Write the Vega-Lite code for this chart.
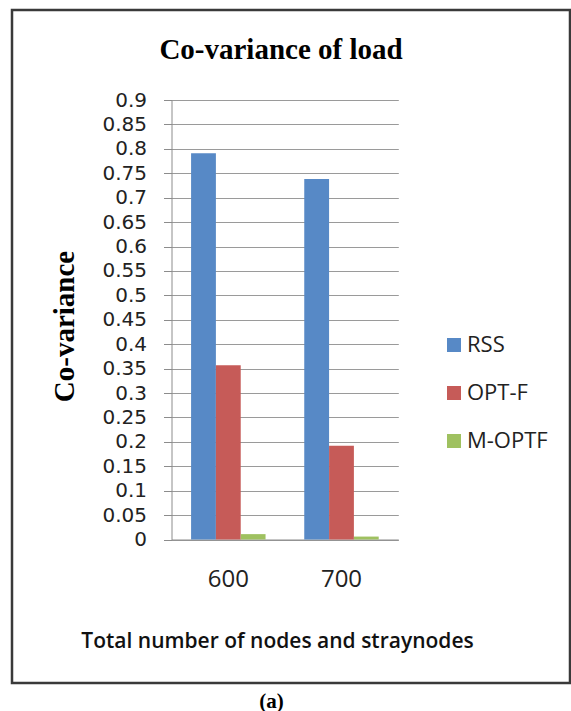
{
  "$schema": "https://vega.github.io/schema/vega-lite/v6.json",
  "width": 558,
  "height": 673,
  "autosize": {"type": "none"},
  "padding": {"left": 12, "top": 10, "right": 1, "bottom": 28},
  "background": "white",
  "config": {
    "view": {"stroke": "#3a3a3a", "strokeWidth": 2.5}
  },
  "data": {
    "values": [
      {"nodes": "600", "series": "RSS", "covariance": 0.791},
      {"nodes": "600", "series": "OPT-F", "covariance": 0.357},
      {"nodes": "600", "series": "M-OPTF", "covariance": 0.011},
      {"nodes": "700", "series": "RSS", "covariance": 0.738},
      {"nodes": "700", "series": "OPT-F", "covariance": 0.192},
      {"nodes": "700", "series": "M-OPTF", "covariance": 0.006}
    ]
  },
  "resolve": {"axis": {"x": "independent"}},
  "layer": [
    {
      "mark": {"type": "bar"},
      "encoding": {
        "x": {
          "field": "nodes",
          "type": "nominal",
          "scale": {"range": [159.5, 386.3], "paddingInner": 0.342, "paddingOuter": 0.173},
          "axis": {
            "orient": "bottom",
            "offset": -143.5,
            "domainColor": "#8c8c8c",
            "domainWidth": 1,
            "ticks": false,
            "labelAngle": 0,
            "labelFont": "Open Sans",
            "labelFontSize": 24,
            "labelColor": "#222222",
            "labelPadding": 28,
            "title": "Total number of nodes and straynodes",
            "titleFont": "Open Sans",
            "titleFontSize": 21,
            "titleFontWeight": 600,
            "titleColor": "#111111",
            "titleX": 265,
            "titleY": 107.5,
            "titleAlign": "center",
            "titleBaseline": "alphabetic"
          }
        },
        "xOffset": {
          "field": "series",
          "type": "nominal",
          "sort": ["RSS", "OPT-F", "M-OPTF"],
          "scale": {"paddingInner": 0, "paddingOuter": 0}
        },
        "y": {
          "field": "covariance",
          "type": "quantitative",
          "scale": {"domain": [0, 0.9], "range": [529.5, 90], "nice": false},
          "axis": {
            "orient": "left",
            "offset": -159.5,
            "values": [0, 0.05, 0.1, 0.15, 0.2, 0.25, 0.3, 0.35, 0.4, 0.45, 0.5, 0.55, 0.6, 0.65, 0.7, 0.75, 0.8, 0.85, 0.9],
            "format": ".2~f",
            "labelOverlap": false,
            "labelFlush": false,
            "grid": true,
            "gridColor": "#9a9a9a",
            "gridWidth": 1,
            "domainColor": "#8c8c8c",
            "tickColor": "#8c8c8c",
            "tickSize": 8,
            "labelFont": "DejaVu Sans",
            "labelFontSize": 20,
            "labelColor": "#222222",
            "labelPadding": 17,
            "title": "Co-variance",
            "titleFont": "Liberation Serif",
            "titleFontSize": 29,
            "titleFontWeight": "bold",
            "titleColor": "#000000",
            "titleAngle": -90,
            "titleX": -107.5,
            "titleY": 316,
            "titleAlign": "center",
            "titleBaseline": "middle"
          }
        },
        "color": {
          "field": "series",
          "type": "nominal",
          "sort": ["RSS", "OPT-F", "M-OPTF"],
          "scale": {"domain": ["RSS", "OPT-F", "M-OPTF"], "range": ["#5789c6", "#c65b58", "#9fc160"]},
          "legend": {
            "orient": "none",
            "legendX": 431,
            "legendY": 324,
            "title": null,
            "symbolType": "square",
            "symbolSize": 196,
            "symbolStrokeWidth": 0,
            "labelFont": "Open Sans",
            "labelFontSize": 22,
            "labelColor": "#222222",
            "labelOffset": 2,
            "rowPadding": 26
          }
        }
      }
    },
    {
      "mark": {"type": "bar", "opacity": 0},
      "encoding": {
        "x": {
          "field": "nodes",
          "type": "nominal",
          "axis": {
            "orient": "bottom",
            "offset": 0,
            "domain": false,
            "ticks": false,
            "labels": false,
            "grid": false,
            "title": "(a)",
            "titleFont": "Liberation Serif",
            "titleFontSize": 21,
            "titleFontWeight": "bold",
            "titleColor": "#000000",
            "titleX": 259,
            "titleY": 24,
            "titleAlign": "center",
            "titleBaseline": "alphabetic"
          }
        }
      }
    },
    {
      "mark": {"type": "bar", "opacity": 0},
      "encoding": {
        "x": {
          "field": "nodes",
          "type": "nominal",
          "axis": {
            "orient": "top",
            "offset": 0,
            "domain": false,
            "ticks": false,
            "labels": false,
            "grid": false,
            "title": "Co-variance of load",
            "titleFont": "Liberation Serif",
            "titleFontSize": 29,
            "titleFontWeight": "bold",
            "titleColor": "#000000",
            "titleX": 268.5,
            "titleY": 48,
            "titleAlign": "center",
            "titleBaseline": "alphabetic"
          }
        }
      }
    }
  ]
}
